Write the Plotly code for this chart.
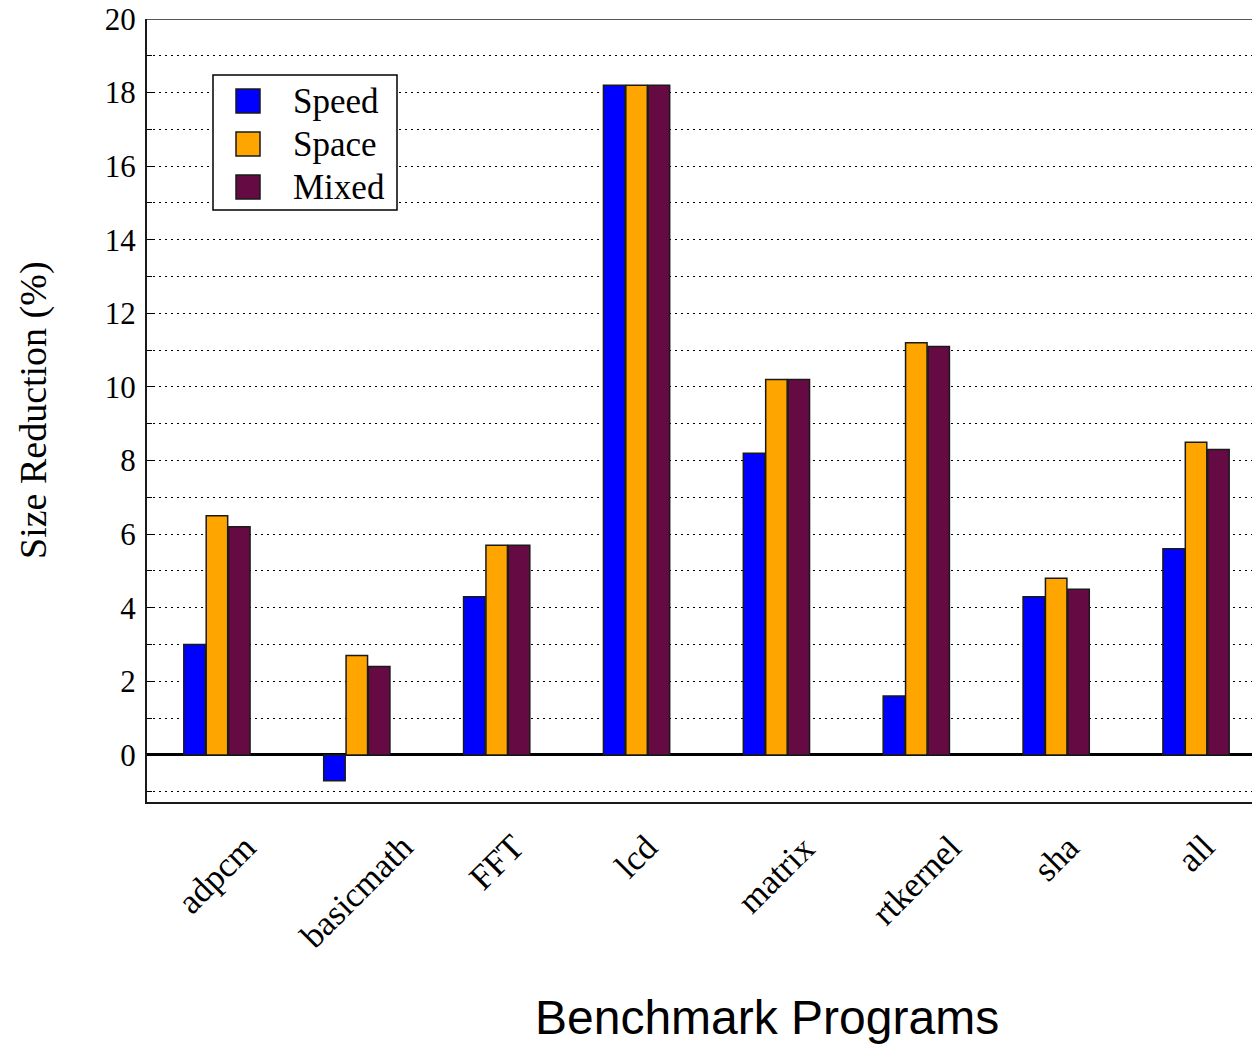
import plotly.graph_objects as go

# Benchmark programs and size reduction (%) for each optimisation mode
programs = ["adpcm", "basicmath", "FFT", "lcd", "matrix", "rtkernel", "sha", "all"]
speed = [3.0, -0.7, 4.3, 18.2, 8.2, 1.6, 4.3, 5.6]
space = [6.5, 2.7, 5.7, 18.2, 10.2, 11.2, 4.8, 8.5]
mixed = [6.2, 2.4, 5.7, 18.2, 10.2, 11.1, 4.5, 8.3]

series_names = ["Speed", "Space", "Mixed"]
series_values = [speed, space, mixed]
series_colors = ["#0000FF", "#FFA500", "#660A44"]

y_tick_vals = [0, 2, 4, 6, 8, 10, 12, 14, 16, 18, 20]

W, H = 1252, 1045
ML, MR, MT, MB = 147, 0, 19, 243
PW, PH = W - ML - MR, H - MT - MB

SERIF = "Liberation Serif"
SANS = "Liberation Sans"

fig = go.Figure()
xs = list(range(len(programs)))
for name, vals, col in zip(series_names, series_values, series_colors):
    fig.add_trace(go.Bar(
        x=xs, y=vals, name=name, showlegend=False,
        marker=dict(color=col, line=dict(color="#1a1a1a", width=1.5)),
    ))


def px_x(p):
    return (p - ML) / PW


def px_y(p):
    return (H - MB - p) / PH


# Rotated category labels centred under each group
for i, lab in enumerate(programs):
    fig.add_annotation(
        x=i, xref="x", y=px_y(825), yref="paper",
        text=lab, textangle=-45, showarrow=False,
        xanchor="center", yanchor="top",
        font=dict(family=SERIF, size=35, color="black"),
    )

# Frame line along the top of the plot
fig.add_shape(type="line", xref="paper", yref="y", x0=0, x1=1, y0=20, y1=20,
              line=dict(color="#222222", width=1.5))

# Legend box with colour swatches
box = dict(x0=213, x1=397, y0=75, y1=210)
fig.add_shape(type="rect", xref="paper", yref="paper",
              x0=px_x(box["x0"]), x1=px_x(box["x1"]),
              y0=px_y(box["y1"]), y1=px_y(box["y0"]),
              line=dict(color="black", width=1.5), fillcolor="white", layer="above")
row_centers = [101, 144, 187]
for name, col, cy in zip(series_names, series_colors, row_centers):
    fig.add_shape(type="rect", xref="paper", yref="paper",
                  x0=px_x(236), x1=px_x(260), y0=px_y(cy + 12), y1=px_y(cy - 12),
                  line=dict(color="#1a1a1a", width=1.5), fillcolor=col, layer="above")
    fig.add_annotation(x=px_x(291), y=px_y(cy), xref="paper", yref="paper",
                       text=name, showarrow=False, xanchor="left", yanchor="middle",
                       font=dict(family=SERIF, size=35, color="black"))

# Axis titles
fig.add_annotation(x=px_x(33), y=px_y(410), xref="paper", yref="paper",
                   text="Size Reduction (%)", textangle=-90, showarrow=False,
                   xanchor="center", yanchor="middle",
                   font=dict(family=SERIF, size=38, color="black"))
fig.add_annotation(x=px_x(767), y=px_y(1017), xref="paper", yref="paper",
                   text="Benchmark Programs", showarrow=False,
                   xanchor="center", yanchor="middle",
                   font=dict(family=SANS, size=48, color="black"))

grid_dash = "2px,4px"
fig.update_layout(
    width=W, height=H,
    margin=dict(l=ML, r=MR, t=MT, b=MB, pad=0),
    paper_bgcolor="white", plot_bgcolor="white",
    barmode="group", bargap=0.52, bargroupgap=0.04,
    showlegend=False,
    xaxis=dict(
        range=[-0.5, 7.4], showticklabels=False, ticks="",
        showgrid=False, zeroline=False,
        showline=True, linecolor="#1a1a1a", linewidth=2,
    ),
    yaxis=dict(
        range=[-1.28, 20], tickvals=y_tick_vals,
        ticks="inside", ticklen=6, tickcolor="black", tickwidth=1.2,
        ticklabelstandoff=3,
        tickfont=dict(family=SERIF, size=31, color="black"),
        showgrid=True, gridcolor="black", gridwidth=1.2, griddash=grid_dash,
        zeroline=True, zerolinecolor="black", zerolinewidth=2.5,
        showline=True, linecolor="#1a1a1a", linewidth=2,
        minor=dict(dtick=1, tick0=0, showgrid=True, gridcolor="black", gridwidth=1.2,
                   griddash=grid_dash, ticks="inside", ticklen=5, tickcolor="black"),
    ),
)

fig.write_html("out.html")
